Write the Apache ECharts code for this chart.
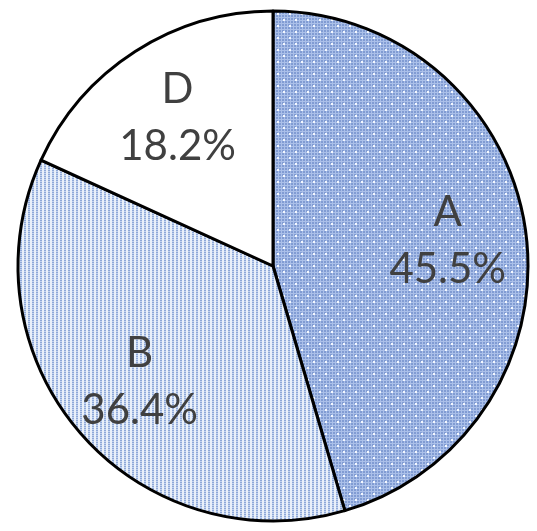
<!DOCTYPE html>
<html>
<head>
<meta charset="utf-8">
<script src="https://cdn.jsdelivr.net/npm/echarts@6/dist/echarts.min.js"></script>
<style>
  html, body { margin: 0; padding: 0; background: #fff; }
  #chart { width: 537px; height: 531px; }
</style>
</head>
<body>
<div id="chart"></div>
<script>
// slice data, clockwise from 12 o'clock
const names = ['A', 'B', 'D']
const values = [5, 4, 2]

// dotted blue fill for A
function dotPattern() {
  const c = document.createElement('canvas')
  c.width = 12
  c.height = 12
  const g = c.getContext('2d')
  g.fillStyle = '#abc0e9'
  g.fillRect(0, 0, 12, 12)
  g.fillStyle = '#819cd3'
  for (let x = 0; x < 12; x += 3) {
    for (let y = 0; y < 12; y += 3) g.fillRect(x, y, 2, 2)
  }
  g.fillStyle = '#f4f8ff'
  g.fillRect(1, 1, 2, 2)
  g.fillRect(7, 7, 2, 2)
  return c
}

// vertical dotted stripes for B
function stripePattern() {
  const c = document.createElement('canvas')
  c.width = 4
  c.height = 4
  const g = c.getContext('2d')
  g.fillStyle = '#e9f0fa'
  g.fillRect(0, 0, 4, 4)
  g.fillStyle = '#c3d3ee'
  g.fillRect(0, 0, 2, 4)
  g.fillStyle = '#8ea8d8'
  g.fillRect(0, 0, 2, 1)
  g.fillRect(0, 2, 2, 1)
  return c
}

const fills = [
  { image: dotPattern(), repeat: 'repeat' },
  { image: stripePattern(), repeat: 'repeat' },
  '#ffffff'
]

const total = values.reduce((a, b) => a + b, 0)
const pieData = names.map((n, i) => ({ name: n, value: values[i], itemStyle: { color: fills[i] } }))
const labelData = names.map((n, i) => ({ name: n, value: values[i] }))

const chart = echarts.init(document.getElementById('chart'))
chart.setOption({
  animation: false,
  series: [
    {
      type: 'pie',
      center: [273, 266],
      radius: [0, 255],
      startAngle: 90,
      clockwise: true,
      silent: true,
      label: { show: false },
      labelLine: { show: false },
      itemStyle: { borderColor: '#000', borderWidth: 3 },
      data: pieData
    },
    {
      // transparent ring just to place the labels further out
      type: 'pie',
      center: [273, 266],
      radius: [92, 255],
      startAngle: 90,
      clockwise: true,
      silent: true,
      itemStyle: { color: 'rgba(0,0,0,0)', borderWidth: 0 },
      labelLine: { show: false },
      label: {
        show: true,
        position: 'inside',
        formatter: (p) => p.name + '\n' + (p.value / total * 100).toFixed(1) + '%',
        fontFamily: 'Lato',
        fontSize: 42,
        lineHeight: 57,
        color: '#404040'
      },
      data: labelData
    }
  ]
})
</script>
</body>
</html>
